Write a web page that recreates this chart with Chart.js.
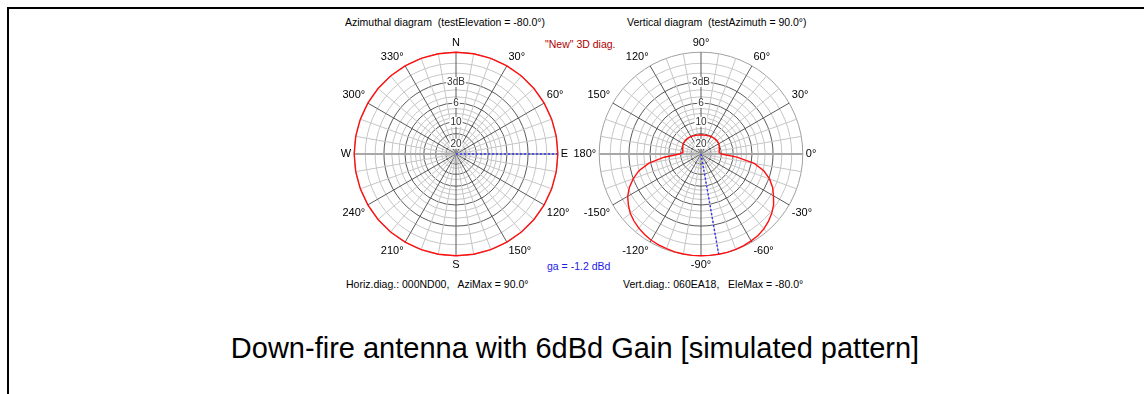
<!DOCTYPE html>
<html>
<head>
<meta charset="utf-8">
<title>Down-fire antenna with 6dBd Gain</title>
<script src="https://cdn.jsdelivr.net/npm/chart.js"></script>
<style>
  body { margin: 0; background: #fff; width: 1144px; height: 394px; overflow: hidden; position: relative; font-family: "Liberation Sans", Arial, sans-serif; }
  #frame { position: absolute; left: 7px; top: 7px; width: 1140px; height: 400px; border-top: 2px solid #000; border-left: 2px solid #000; }
  .txt { position: absolute; font-size: 10.5px; line-height: 13px; white-space: pre; color: #000; }
  canvas { position: absolute; }
  #caption { position: absolute; left: 0; width: 1150px; top: 331px; text-align: center; font-size: 29px; line-height: 34px; color: #000; }
</style>
</head>
<body>
<div id="frame"></div>

<div class="txt" style="left:345px; top:16px;">Azimuthal diagram  (testElevation = -80.0°)</div>
<div class="txt" style="left:627px; top:16px;">Vertical diagram  (testAzimuth = 90.0°)</div>
<div class="txt" style="left:545px; top:38px; color:#b00000;">"New" 3D diag.</div>
<div class="txt" style="left:547px; top:260px; color:#1a1ae6;">ga = -1.2 dBd</div>
<div class="txt" style="left:346px; top:278px;">Horiz.diag.: 000ND00,   AziMax = 90.0°</div>
<div class="txt" style="left:623px; top:278px;">Vert.diag.: 060EA18,   EleMax = -80.0°</div>

<canvas id="aziChart" width="280" height="236" style="left:316px; top:36px;"></canvas>
<canvas id="eleChart" width="280" height="236" style="left:561px; top:36px;"></canvas>

<div id="caption">Down-fire antenna with 6dBd Gain [simulated pattern]</div>

<script>
// Azimuthal diagram: azimuth (deg), clockwise from north
const aziAngles = [0, 10, 20, 30, 40, 50, 60, 70, 80, 90, 100, 110, 120, 130, 140, 150, 160, 170,
  180, 190, 200, 210, 220, 230, 240, 250, 260, 270, 280, 290, 300, 310, 320, 330, 340, 350];
// gain relative to max (dB) at testElevation -80
const aziGainDb = [0, 0, 0, 0, 0, 0, 0, 0, 0, 0, 0, 0, 0, 0, 0, 0, 0, 0,
  0, 0, 0, 0, 0, 0, 0, 0, 0, 0, 0, 0, 0, 0, 0, 0, 0, 0];
const aziPointLabels = ['N', '30°', '60°', 'E', '120°', '150°', 'S', '210°', '240°', 'W', '300°', '330°'];
const aziMax = 90;

// Vertical diagram: elevation (deg), clockwise from the top (90)
const eleAngles = [90, 85, 80, 75, 70, 65, 60, 55, 50, 45, 40, 35, 30, 25, 20, 15, 10, 5,
  0, -5, -10, -15, -20, -25, -30, -35, -40, -45, -50, -55, -60, -65, -70, -75, -80, -85,
  -90, -95, -100, -105, -110, -115, -120, -125, -130, -135, -140, -145, -150, -155, -160, -165, -170, -175,
  180, 175, 170, 165, 160, 155, 150, 145, 140, 135, 130, 125, 120, 115, 110, 105, 100, 95];
// gain relative to max (dB) at testAzimuth 90
const eleGainDb = [-14.6, -14.55, -14.5, -14.4, -14.3, -14.2, -14.1, -14.0, -13.9, -13.85, -13.8, -13.85, -13.9, -14.15, -14.4, -14.6, -14.8, -15.0,
  -14.0, -9.0, -5.5, -3.9, -2.9, -2.2, -1.7, -1.2, -0.85, -0.57, -0.35, -0.2, -0.13, -0.07, -0.03, 0, 0, 0,
  0, 0, -0.02, -0.04, -0.09, -0.13, -0.19, -0.3, -0.44, -0.62, -0.85, -1.2, -1.6, -2.2, -3.0, -4.0, -5.7, -8.8,
  -13.5, -15.0, -14.8, -14.6, -14.4, -14.15, -13.9, -13.85, -13.8, -13.85, -13.9, -14.0, -14.1, -14.2, -14.3, -14.4, -14.5, -14.55];
const elePointLabels = ['90°', '60°', '30°', '0°', '-30°', '-60°', '-90°', '-120°', '-150°', '180°', '150°', '120°'];
const eleMax = -80;

// dB rings below max (0 dB = outer ring), linear voltage scale
const ringDb = [20, 17, 14, 12, 10, 9, 8, 7, 6, 5, 4, 3, 2, 1, 0];
const ringLabels = ['20', '', '', '', '10', '', '', '', '6', '', '', '3dB', '', '', ''];
const majorRingDb = [20, 14, 10, 6, 3];

const FONT = '"Liberation Sans", Arial, sans-serif';
const dbToRatio = (db) => Math.pow(10, db / 20);

const buildPolar = (canvasId, angles, gainDb, pointLabels, maxAngle, horizIdx) => {
  const step = 360 / angles.length;
  const per30 = 30 / step;
  const per10 = 10 / step;

  // blue dotted line from centre to the maximum
  const maxIdx = angles.indexOf(maxAngle);
  const maxLine = angles.map(() => null);
  maxLine[maxIdx] = dbToRatio(gainDb[maxIdx]);
  maxLine[(maxIdx - 1 + angles.length) % angles.length] = 0;

  const data = {
    labels: angles,
    datasets: [
      {
        label: 'pattern',
        data: gainDb.map(dbToRatio),
        borderColor: '#ff1010',
        borderWidth: 1.4,
        pointRadius: 0,
        fill: false,
      },
      {
        label: 'max',
        data: maxLine,
        borderColor: '#2b2bff',
        borderWidth: 1.4,
        borderDash: [2, 2],
        pointRadius: 0,
        fill: false,
        spanGaps: false,
      },
    ],
  };

  const config = {
    type: 'radar',
    data: data,
    options: {
      responsive: false,
      animation: false,
      events: [],
      layout: { padding: 0 },
      plugins: { legend: { display: false }, tooltip: { enabled: false } },
      scales: {
        r: {
          min: 0,
          max: 1,
          afterBuildTicks: (scale) => {
            scale.ticks = [0].concat(ringDb.map((db) => dbToRatio(-db))).map((v) => ({ value: v }));
          },
          grid: {
            circular: true,
            color: (ctx) => {
              const db = ringDb[ctx.index - 1];
              if (db === 0) return '#a0a0a0';
              return majorRingDb.includes(db) ? '#5a5a5a' : '#c6c6c6';
            },
            lineWidth: 1,
          },
          angleLines: {
            color: (ctx) => {
              const i = ctx.index;
              if (i === horizIdx[0] || i === horizIdx[1]) return '#a8a8a8';
              if (i % per30 === 0) return '#5a5a5a';
              if (i % per10 === 0) return '#c6c6c6';
              return null;
            },
            lineWidth: (ctx) => {
              const i = ctx.index;
              if (i === horizIdx[0] || i === horizIdx[1]) return 2;
              return i % per10 === 0 ? 1 : 0;
            },
          },
          ticks: {
            autoSkip: false,
            callback: (value, index) => (index === 0 ? '' : ringLabels[index - 1]),
            font: { family: FONT, size: 10 },
            color: '#333',
            backdropColor: '#fff',
            backdropPadding: { x: 1, y: 0 },
            showLabelBackdrop: (ctx) => !!(ctx.tick && ctx.tick.label),
          },
          pointLabels: {
            callback: (label, index) => (index % per30 === 0 ? pointLabels[index / per30] : ''),
            font: { family: FONT, size: 11 },
            color: '#000',
            padding: -2,
          },
        },
      },
    },
  };

  return new Chart(document.getElementById(canvasId), config);
};

buildPolar('aziChart', aziAngles, aziGainDb, aziPointLabels, aziMax, [9, 27]);
buildPolar('eleChart', eleAngles, eleGainDb, elePointLabels, eleMax, [18, 54]);
</script>
</body>
</html>
